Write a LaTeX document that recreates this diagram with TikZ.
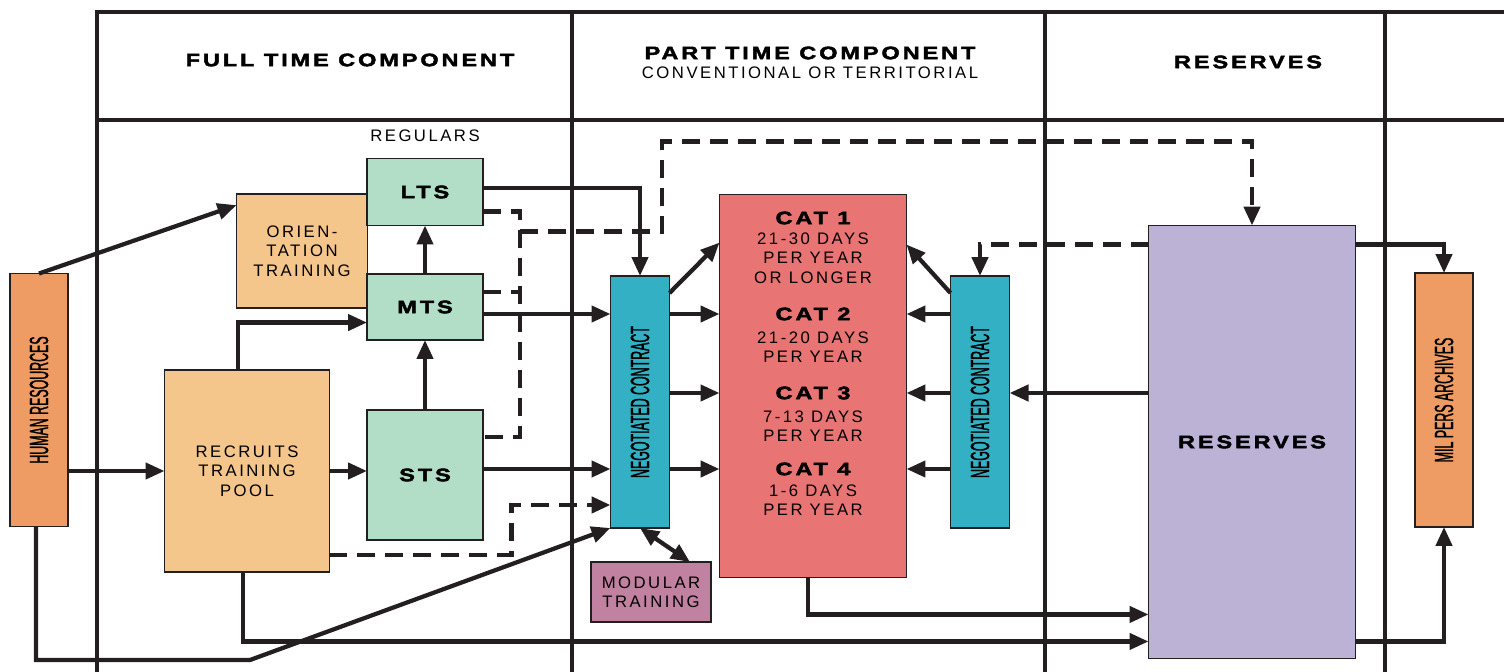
\documentclass[tikz,border=0pt]{standalone}
\usepackage{fontspec}
\setmainfont{Liberation Sans}[LetterSpace=15]
\newfontfamily\hdfont{Liberation Sans}[FakeStretch=1.3,LetterSpace=16,BoldFeatures={FakeBold=2.5}]
\newfontfamily\condfont{Liberation Sans}[FakeStretch=0.47,FakeBold=1]
\usetikzlibrary{arrows.meta,calc}

\definecolor{hrorange}{HTML}{EE9C64}
\definecolor{paleorange}{HTML}{F4C68C}
\definecolor{mint}{HTML}{B2DEC8}
\definecolor{ncteal}{HTML}{33B0C4}
\definecolor{catred}{HTML}{E87573}
\definecolor{mauve}{HTML}{C181A1}
\definecolor{lavender}{HTML}{BBB2D6}
\definecolor{ink}{HTML}{231F20}

\newcommand{\vlabel}[1]{\rotatebox{90}{\condfont\fontsize{15}{17}\selectfont #1}}

\tikzset{
  gridline/.style={draw=ink, line width=0.8mm},
  box/.style={draw=ink, line width=0.3mm, inner sep=0pt, outer sep=0pt,
    align=center, font=\fontsize{9.5}{11}\selectfont},
  tsbox/.style={box, fill=mint, minimum width=23.2mm,
    font=\hdfont\bfseries\fontsize{10.3}{12}\selectfont},
  ncbox/.style={box, fill=ncteal, minimum width=11.8mm, minimum height=50.4mm},
  hdtext/.style={inner sep=0pt, font=\hdfont\bfseries\fontsize{10.3}{12}\selectfont},
  plaintext/.style={inner sep=0pt, align=center, font=\fontsize{9.5}{11}\selectfont},
  arr/.style={draw=ink, line width=0.85mm, -{Triangle[length=3.8mm,width=3.2mm]}},
  dashline/.style={draw=ink, line width=0.9mm, dash pattern=on 3.6mm off 2mm},
  dasharr/.style={dashline, -{Triangle[length=3.8mm,width=3.2mm]}}
}

\begin{document}
\begin{tikzpicture}[x=0.02cm, y=-0.02cm]
\useasboundingbox (0,0) rectangle (1504,672);

% table frame
\draw[gridline] (95,12) -- (1504,12);
\draw[gridline] (97,120) -- (1504,120);
\foreach \gx in {97,572,1045,1385}
  \draw[gridline] (\gx,12) -- (\gx,672);

% column headings
\node[hdtext] (fullhd) at (350,60) {FULL TIME COMPONENT};
\node[hdtext] (parthd) at (810,53) {PART TIME COMPONENT};
\node[plaintext] (convhd) at (810,73) {CONVENTIONAL OR TERRITORIAL};
\node[hdtext] (reshd) at (1248,62) {RESERVES};
\node[plaintext] (regulars) at (425,136) {REGULARS};

% full time component
\node[box, fill=hrorange, minimum width=11.6mm, minimum height=50.6mm] (hr) at (39,400) {\vlabel{HUMAN RESOURCES}};
\node[box, fill=paleorange, minimum width=26.2mm, minimum height=22.8mm] (orient) at (302,251) {ORIEN-\\TATION\\TRAINING};
\node[tsbox, minimum height=13.4mm] (lts) at (425,192) {LTS};
\node[tsbox, minimum height=13.2mm] (mts) at (425,307) {MTS};
\node[box, fill=paleorange, minimum width=33mm, minimum height=40.4mm] (pool) at (247,471) {RECRUITS\\TRAINING\\POOL};
\node[tsbox, minimum height=26mm] (sts) at (425,475) {STS};

% part time component
\node[ncbox] (ncl) at (640,402) {\vlabel{NEGOTIATED CONTRACT}};
\node[box, fill=mauve, minimum width=24mm, minimum height=12mm] (modular) at (651,592) {MODULAR\\TRAINING};
\node[box, fill=catred, minimum width=37.4mm, minimum height=76.6mm] (cat) at (813,386) {};
\node[ncbox] (ncr) at (980,402) {\vlabel{NEGOTIATED CONTRACT}};

\node[hdtext] (cat1t) at (813,218) {CAT 1};
\node[plaintext] (cat1d) at (813,258) {21-30 DAYS\\PER YEAR\\OR LONGER};
\node[hdtext] (cat2t) at (813,314) {CAT 2};
\node[plaintext] (cat2d) at (813,347) {21-20 DAYS\\PER YEAR};
\node[hdtext] (cat3t) at (813,393) {CAT 3};
\node[plaintext] (cat3d) at (813,426) {7-13 DAYS\\PER YEAR};
\node[hdtext] (cat4t) at (813,469) {CAT 4};
\node[plaintext] (cat4d) at (813,500) {1-6 DAYS\\PER YEAR};

% reserves
\node[box, fill=lavender, minimum width=41.4mm, minimum height=86.6mm,
  font=\hdfont\bfseries\fontsize{10.3}{12}\selectfont] (res) at (1252,442) {RESERVES};
\node[box, fill=hrorange, minimum width=11.6mm, minimum height=50.8mm] (mil) at (1444,400) {\vlabel{MIL PERS ARCHIVES}};

% flows out of human resources
\coordinate (hrcorner) at (36,660);
\coordinate (hrbend) at (250,660);
\draw[arr] (hr.north) -- (orient.145);
\draw[arr] (hr.east |- pool.west) -- (pool.west);
\draw[arr] (hrcorner |- hr.south) -- (hrcorner) -- (hrbend) -- (ncl.south west);

% regulars
\draw[arr] (pool.95) |- (mts.195);
\draw[arr] (pool.east) -- (pool.east -| sts.west);
\draw[arr] (sts.north) -- (mts.south);
\draw[arr] (mts.north) -- (lts.south);
\draw[arr] ($(lts.east)+(0,-4)$) -| (ncl.north);
\draw[arr] (mts.east |- cat2t) -- (ncl.west |- cat2t);
\draw[arr] (sts.east |- cat4t) -- (ncl.west |- cat4t);
\draw[arr] ($(pool.south)+(-4,0)$) |- ($(res.south west)+(0,-17)$);
\draw[dasharr] ($(pool.south east)+(0,-17)$) -| ($(ncl.south west)+(-99,-23)$) -- ($(ncl.south west)+(0,-23)$);

% dashed transfer to reserves
\draw[dashline] ($(lts.south east)+(0,-14)$) -| ($(sts.north east)+(37,27)$) -- ($(sts.north east)+(0,27)$);
\draw[dashline] ($(mts.east)+(0,-15)$) -- ++(37,0);
\draw[dasharr] ($(lts.south east)+(37,6)$) -- ++(142,0) -- ++(0,-90) -| (res.north);

% negotiated contracts to categories
\draw[arr] ($(ncl.north east)+(0,17)$) -- ($(cat.north west)+(0,48)$);
\draw[arr] (ncl.east |- cat2t) -- (cat.west |- cat2t);
\draw[arr] (ncl.east |- cat3t) -- (cat.west |- cat3t);
\draw[arr] (ncl.east |- cat4t) -- (cat.west |- cat4t);
\draw[arr] ($(ncr.north west)+(0,17)$) -- ($(cat.north east)+(0,50)$);
\draw[arr] (ncr.west |- cat2t) -- (cat.east |- cat2t);
\draw[arr] (ncr.west |- cat3t) -- (cat.east |- cat3t);
\draw[arr] (ncr.west |- cat4t) -- (cat.east |- cat4t);
\draw[draw=ink, line width=0.85mm, {Triangle[length=3.8mm,width=3.2mm]}-{Triangle[length=3.8mm,width=3.2mm]}]
  (ncl.south) -- ($(modular.north east)+(-21,0)$);
\draw[arr] ($(cat.south)+(-5,0)$) |- ($(res.south west)+(0,-44)$);

% reserves links
\draw[arr] (res.west |- cat3t) -- (ncr.east |- cat3t);
\draw[dasharr] ($(res.north west)+(0,19)$) -| (ncr.north);
\draw[arr] ($(res.north east)+(0,19)$) -| (mil.north);
\draw[arr] ($(res.south east)+(0,-17)$) -| (mil.south);
\end{tikzpicture}
\end{document}
